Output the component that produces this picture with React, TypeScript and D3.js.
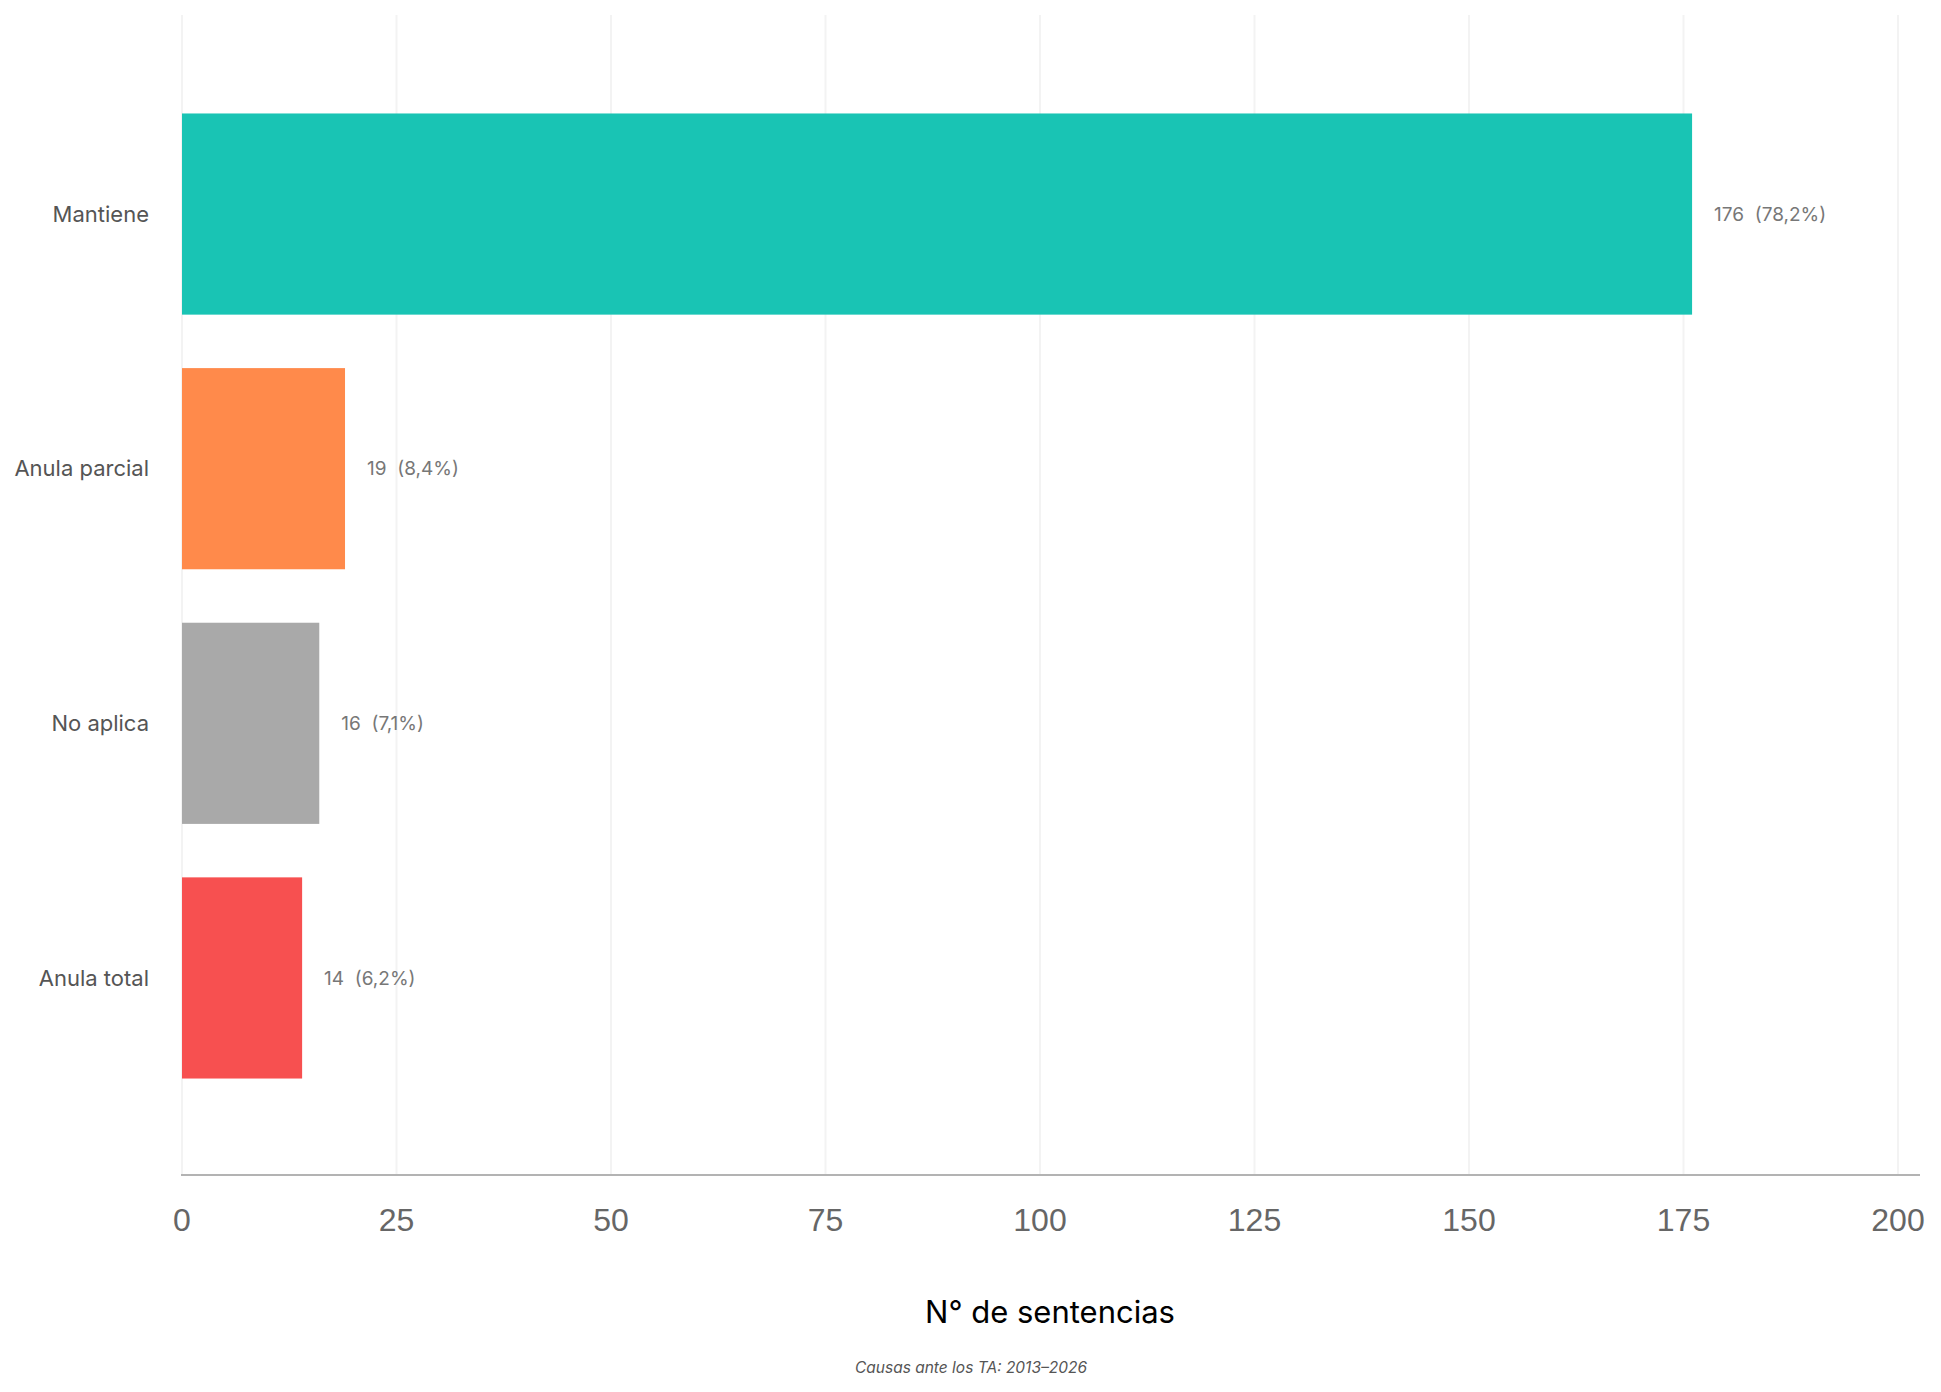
import React from "react";
import * as d3 from "d3";

const width = 1941;
const height = 1392;

// Datos
const categories = ["Mantiene", "Anula parcial", "No aplica", "Anula total"];
const counts = [176, 19, 16, 14];
const percents = ["78,2%", "8,4%", "7,1%", "6,2%"];
const colors = ["#19c4b4", "#ff8a4b", "#a9a9a9", "#f75050"];
const xTicks = [0, 25, 50, 75, 100, 125, 150, 175, 200];

const axisTitle = "N° de sentencias";
const caption = "Causas ante los TA: 2013–2026";

const plotLeft = 182;
const plotRight = 1898;
const plotTop = 15;
const plotBottom = 1175;

const labelFont = "Inter, 'Noto Sans', sans-serif";
const tickFont = "'Liberation Sans', Arial, sans-serif";

export default function App() {
  const x = d3.scaleLinear().domain([0, 200]).range([plotLeft, plotRight]);
  const y = d3
    .scaleBand<string>()
    .domain(categories)
    .range([60, 1132])
    .padding(0.21);

  const mid = (c: string) => (y(c) ?? 0) + y.bandwidth() / 2;

  return (
    <svg
      width={width}
      height={height}
      style={{ position: "absolute", left: 0, top: 0, display: "block", background: "#fff" }}
    >
      {/* grilla vertical */}
      {xTicks.map((t) => (
        <line
          key={"g" + t}
          x1={x(t)}
          x2={x(t)}
          y1={plotTop}
          y2={plotBottom}
          stroke="#f3f3f3"
          strokeWidth={2}
        />
      ))}

      {/* barras */}
      {categories.map((c, i) => (
        <rect
          key={c}
          x={x(0)}
          y={y(c)}
          width={x(counts[i]) - x(0)}
          height={y.bandwidth()}
          fill={colors[i]}
        />
      ))}

      {/* etiquetas de categoría */}
      {categories.map((c) => (
        <text
          key={"l" + c}
          x={149}
          y={mid(c)}
          dy="0.35em"
          textAnchor="end"
          fontFamily={labelFont}
          fontSize={22}
          fill="#555"
        >
          {c}
        </text>
      ))}

      {/* valores */}
      {categories.map((c, i) => (
        <text
          key={"v" + c}
          x={x(counts[i]) + 22}
          y={mid(c)}
          dy="0.35em"
          fontFamily={labelFont}
          fontSize={19}
          fill="#777"
          style={{ whiteSpace: "pre" }}
        >
          {`${counts[i]}  (${percents[i]})`}
        </text>
      ))}

      {/* eje x */}
      <line x1={181} x2={1920} y1={plotBottom} y2={plotBottom} stroke="#b3b3b3" strokeWidth={2} />
      {xTicks.map((t) => (
        <text
          key={"t" + t}
          x={x(t)}
          y={1220}
          dy="0.35em"
          textAnchor="middle"
          fontFamily={tickFont}
          fontSize={32}
          fill="#666"
        >
          {t}
        </text>
      ))}

      <text
        x={1050}
        y={1323}
        textAnchor="middle"
        fontFamily={labelFont}
        fontSize={31}
        fill="#000"
      >
        {axisTitle}
      </text>
      <text
        x={971}
        y={1373}
        textAnchor="middle"
        fontFamily={labelFont}
        fontSize={15.5}
        fontStyle="italic"
        fill="#555"
      >
        {caption}
      </text>
    </svg>
  );
}
